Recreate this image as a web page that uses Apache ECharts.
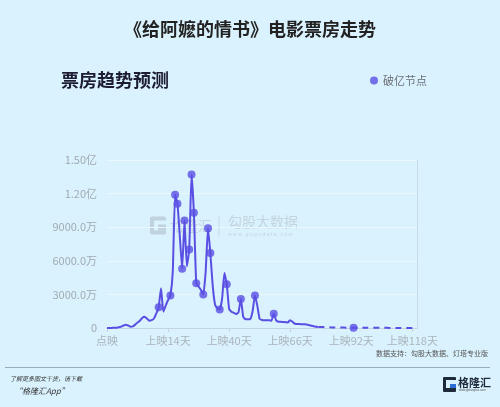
<!DOCTYPE html>
<html><head><meta charset="utf-8">
<script src="https://cdn.jsdelivr.net/npm/echarts@6/dist/echarts.min.js"></script>
<style>html,body{margin:0;padding:0;background:#daf2fd;}#c{width:500px;height:407px;}</style>
</head><body><div id="c"></div>
<script>
// x categories: 13 preview days then release days
var categories = [];
for (var i = 0; i < 133; i++) {
  categories.push(i === 0 ? '点映' : (i < 13 ? '点映第' + (i + 1) + '天' : '上映' + (i - 12) + '天'));
}
// daily box office (万), actual
var actual = [0,0,10,20,30,60,120,220,280,220,120,150,300,500,650,900,1000,850,650,700,
  850,1300,1850,3550,1450,2000,2500,2900,5000,11900,11100,8200,5300,9600,5500,7000,13700,10300,4000,3700,
  3400,3000,5000,8900,6700,3800,2100,1750,1650,2600,4900,3900,1700,1450,1350,1250,1400,2600,1000,780,
  780,780,1500,2900,2000,800,720,700,700,700,650,1280,700,560,550,530,520,500,700,550,
  380,360,350,340,330,320,260,200,150,120,100];
// forecast (万), from index 90
var forecast = [100,90,80,70,62,56,50,46,42,39,36,34,32,30,28,26,25,24,23,22,
  21,20,19,18,17,16,15,14,13,12,11,10,10,9,9,8,8,7,7,6,6,5,5];
// milestone (破亿节点) indices
var milestoneIdx = [22,27,29,30,32,33,35,36,37,38,41,43,44,48,51,57,63,71,105];
var yTicks = {0:'0',3000:'3000.0万',6000:'6000.0万',9000:'9000.0万',12000:'1.20亿',15000:'1.50亿'};

var full = actual.slice(0, 90).concat(forecast);
var fcData = categories.map(function(_, i){ return i < 90 ? null : forecast[i - 90]; });
var msData = categories.map(function(_, i){ return milestoneIdx.indexOf(i) >= 0 ? full[i] : null; });

var color = '#5a4fe3';
var chart = echarts.init(document.getElementById('c'), null, {renderer:'canvas'});
chart.setOption({
  backgroundColor: '#daf2fd',
  animation: false,
  title: [
    {text:'《给阿嬷的情书》电影票房走势', left:'center', top:15,
     textStyle:{fontSize:18, fontWeight:'bold', color:'#222', fontFamily:'Noto Sans CJK SC'}},
    {text:'票房趋势预测', left:56, top:66,
     textStyle:{fontSize:18, fontWeight:'bold', color:'#1c1c34', fontFamily:'Noto Sans CJK SC'}}
  ],
  legend: {data:[{name:'破亿节点', icon:'circle'}], right:68, top:70, itemWidth:8, itemHeight:8, itemGap:6,
    textStyle:{fontSize:11, color:'#6a6f78', fontFamily:'Noto Sans CJK SC'}},
  grid: {left:107, right:83, top:160, bottom:79},
  xAxis: {type:'category', data:categories, boundaryGap:false,
    axisLine:{lineStyle:{color:'#c3d6e0'}},
    axisTick:{show:true, interval:25, length:4, lineStyle:{color:'#c3d6e0'}},
    axisLabel:{interval:25, color:'#aab4bc', fontSize:11, margin:7, fontFamily:'Noto Sans CJK SC'},
    splitLine:{show:false}},
  yAxis: [
    {type:'value', min:0, max:15000, interval:3000,
     axisLine:{show:false}, axisTick:{show:false},
     axisLabel:{color:'#a0aab2', fontSize:11, margin:10, fontFamily:'Noto Sans CJK SC',
       formatter:function(v){ return yTicks[v] !== undefined ? yTicks[v] : ''; }},
     splitLine:{lineStyle:{color:'#e9f7fe', width:1}}},
    {type:'value', min:0, max:15000, interval:3000, position:'right',
     axisLine:{show:true, lineStyle:{color:'#c8dce6'}}, axisTick:{show:false},
     axisLabel:{show:false}, splitLine:{show:false}}
  ],
  series: [
    {name:'票房', type:'line', data:actual, showSymbol:false, smooth:0.15,
     lineStyle:{color:color, width:2}, itemStyle:{color:color}},
    {name:'预测', type:'line', data:fcData, showSymbol:false, smooth:0.15,
     lineStyle:{color:color, width:2, type:[6,5]}, itemStyle:{color:color}},
    {name:'破亿节点', type:'scatter', data:msData, symbolSize:8, z:5,
     itemStyle:{color:color}}
  ],
  graphic: [
    // watermark
    {type:'group', left:150, top:214, silent:true, children:[
      {type:'rect', shape:{x:0,y:0,width:16,height:18,r:2}, style:{fill:'#bfd2de'}},
      {type:'rect', shape:{x:4,y:4,width:12,height:10}, style:{fill:'#daf2fd'}},
      {type:'rect', shape:{x:8,y:8,width:8,height:6}, style:{fill:'#bfd2de'}},
      {type:'text', x:20, y:2, style:{text:'格隆汇', fontSize:14, fill:'#c2d5e0', fontFamily:'Noto Sans CJK SC'}},
      {type:'line', shape:{x1:69,y1:0,x2:69,y2:20}, style:{stroke:'#c8dae4', lineWidth:1}},
      {type:'text', x:78, y:-2, style:{text:'勾股大数据', fontSize:14, fill:'#c2d5e0', fontFamily:'Noto Sans CJK SC'}},
      {type:'text', x:78, y:16, style:{text:'w w w . g o g u d a t a . c o m', fontSize:5, fill:'#c2d5e0'}}
    ]},
    // footer
    {type:'text', right:12, top:350, style:{text:'数据支持：勾股大数据、灯塔专业版', fontSize:7, fill:'#555', fontFamily:'Noto Sans CJK SC'}},
    {type:'rect', shape:{x:5,y:367,width:485,height:1}, style:{fill:'#9aacb6'}},
    {type:'text', left:10, top:376, style:{text:'了解更多图文干货，请下载', fontSize:6, fill:'#333', fontStyle:'italic', fontFamily:'Noto Sans CJK SC'}},
    {type:'text', left:14, top:387, style:{text:'“格隆汇App”', fontSize:8, fill:'#333', fontStyle:'italic', fontFamily:'Noto Sans CJK SC'}},
    {type:'group', left:443, top:377, children:[
      {type:'rect', shape:{x:0,y:0,width:13,height:15,r:1}, style:{fill:'#1d2a3a'}},
      {type:'rect', shape:{x:3,y:3,width:10,height:8}, style:{fill:'#daf2fd'}},
      {type:'rect', shape:{x:7,y:7,width:6,height:4}, style:{fill:'#2a6fd6'}},
      {type:'text', x:15, y:0, style:{text:'格隆汇', fontSize:11, fontWeight:'bold', fill:'#1d2a3a', fontFamily:'Noto Sans CJK SC'}},
      {type:'text', x:16, y:12, style:{text:'www.gelonghui.com', fontSize:3, fill:'#555'}}
    ]}
  ]
});
</script></body></html>
